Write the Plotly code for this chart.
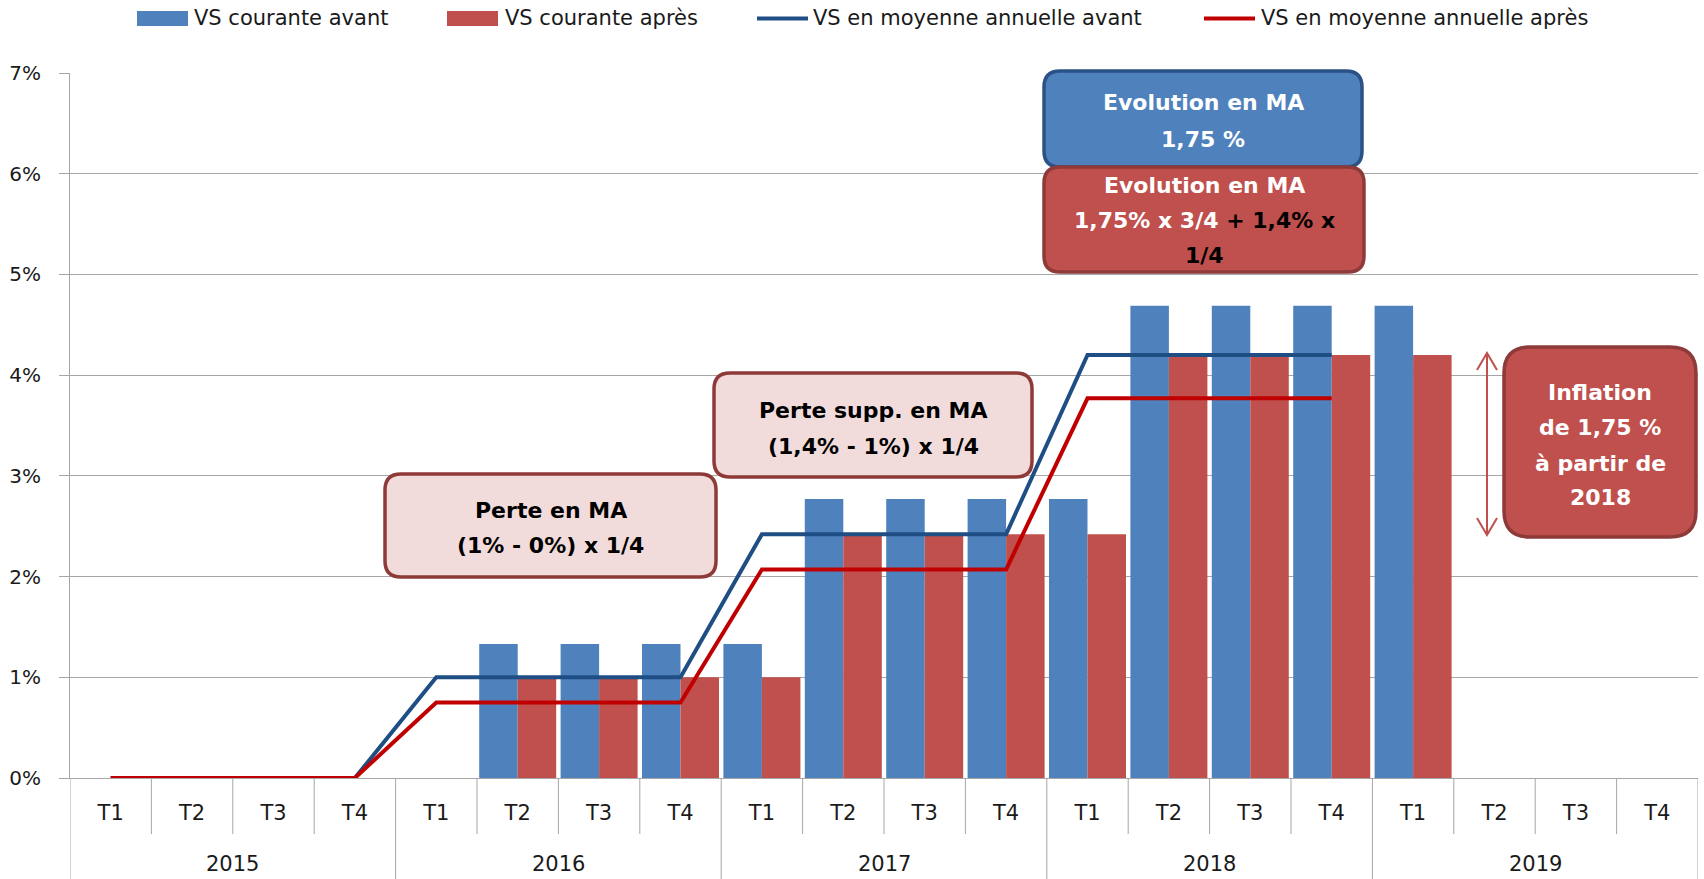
import plotly.graph_objects as go

# ---------------- data ----------------
years = ["2015", "2016", "2017", "2018", "2019"]
quarters = ["T1", "T2", "T3", "T4"]
period_quarters = [q for y in years for q in quarters]

vs_courante_avant = [None, None, None, None, None, 1.33, 1.33, 1.33, 1.33, 2.77, 2.77, 2.77, 2.77,
                     4.69, 4.69, 4.69, 4.69, None, None, None]
vs_courante_apres = [None, None, None, None, None, 1.0, 1.0, 1.0, 1.0, 2.42, 2.42, 2.42, 2.42,
                     4.2, 4.2, 4.2, 4.2, None, None, None]
vs_ma_avant = [0, 0, 0, 0, 1.0, 1.0, 1.0, 1.0, 2.42, 2.42, 2.42, 2.42, 4.2, 4.2, 4.2, 4.2,
               None, None, None, None]
vs_ma_apres = [0, 0, 0, 0, 0.75, 0.75, 0.75, 0.75, 2.07, 2.07, 2.07, 2.07, 3.77, 3.77, 3.77, 3.77,
               None, None, None, None]

series_names = ["VS courante avant", "VS courante après",
                "VS en moyenne annuelle avant", "VS en moyenne annuelle après"]
y_ticks = [0, 1, 2, 3, 4, 5, 6, 7]
y_tick_labels = ["0%", "1%", "2%", "3%", "4%", "5%", "6%", "7%"]

# ---------------- styles / layout constants ----------------
W, H = 1704, 879
L, R, T, B = 70, 1698, 73, 778
FONT = "DejaVu Sans"
BLUE = "#4F81BD"
RED = "#C0504D"
LINE_BLUE = "#1F4E85"
LINE_RED = "#C00000"
GRID = "#A6A6A6"
DARK_RED = "#8E3A38"
DARK_BLUE = "#2B5286"
PINK = "#F2DCDB"
TXT = "#1a1a1a"

x_idx = list(range(len(period_quarters)))
n = len(x_idx)


def fx(X):
    return (X - L) / (R - L)


def fy(Y):
    return (B - Y) / (B - T)


def rounded_path(x0, y0, x1, y1, r):
    pts = [
        ("M", [(x0 + r, y0)]), ("L", [(x1 - r, y0)]), ("Q", [(x1, y0), (x1, y0 + r)]),
        ("L", [(x1, y1 - r)]), ("Q", [(x1, y1), (x1 - r, y1)]),
        ("L", [(x0 + r, y1)]), ("Q", [(x0, y1), (x0, y1 - r)]),
        ("L", [(x0, y0 + r)]), ("Q", [(x0, y0), (x0 + r, y0)]),
    ]
    s = ""
    for cmd, ps in pts:
        s += cmd + " ".join(f"{fx(px):.5f},{fy(py):.5f}" for px, py in ps) + " "
    return s + "Z"


fig = go.Figure()
fig.add_trace(go.Bar(x=x_idx, y=vs_courante_avant, name=series_names[0],
                     marker=dict(color=BLUE, line=dict(width=0)), showlegend=False))
fig.add_trace(go.Bar(x=x_idx, y=vs_courante_apres, name=series_names[1],
                     marker=dict(color=RED, line=dict(width=0)), showlegend=False))
fig.add_trace(go.Scatter(x=x_idx, y=vs_ma_avant, name=series_names[2], mode="lines",
                         line=dict(color=LINE_BLUE, width=4), showlegend=False))
fig.add_trace(go.Scatter(x=x_idx, y=vs_ma_apres, name=series_names[3], mode="lines",
                         line=dict(color=LINE_RED, width=4), showlegend=False))

shapes = []
annotations = []

# category separators below the axis
for i in range(n + 1):
    xb = i - 0.5
    year_boundary = (i % len(quarters) == 0)
    shapes.append(dict(type="line", xref="x", yref="paper", x0=xb, x1=xb,
                       y0=fy(B), y1=fy(H if year_boundary else 834),
                       line=dict(color=GRID, width=1)))
# year labels
for k, yr in enumerate(years):
    annotations.append(dict(xref="x", yref="paper", x=k * len(quarters) + 1.5, y=fy(864),
                            text=yr, showarrow=False, xanchor="center", yanchor="middle",
                            font=dict(family=FONT, size=21, color=TXT)))

# manual legend
leg_y = 18.5
shapes.append(dict(type="rect", xref="paper", yref="paper", x0=fx(137), x1=fx(188),
                   y0=fy(11), y1=fy(26), fillcolor=BLUE, line=dict(width=0)))
shapes.append(dict(type="rect", xref="paper", yref="paper", x0=fx(447), x1=fx(498),
                   y0=fy(11), y1=fy(26), fillcolor=RED, line=dict(width=0)))
shapes.append(dict(type="line", xref="paper", yref="paper", x0=fx(757), x1=fx(808),
                   y0=fy(leg_y), y1=fy(leg_y), line=dict(color=LINE_BLUE, width=4)))
shapes.append(dict(type="line", xref="paper", yref="paper", x0=fx(1204), x1=fx(1255),
                   y0=fy(leg_y), y1=fy(leg_y), line=dict(color=LINE_RED, width=4)))
for xs, name in zip([192, 503, 811, 1259], series_names):
    annotations.append(dict(xref="paper", yref="paper", x=fx(xs), y=fy(leg_y), text=name,
                            showarrow=False, xanchor="left", yanchor="middle",
                            font=dict(family=FONT, size=21, color=TXT)))

# boxes
boxes = [
    dict(x0=385, y0=474, x1=716, y1=577, r=16, fill=PINK, border=DARK_RED,
         lines=[("Perte en MA", 510), ("(1% - 0%) x 1/4", 545)], color="black"),
    dict(x0=714, y0=373, x1=1032, y1=477, r=16, fill=PINK, border=DARK_RED,
         lines=[("Perte supp. en MA", 410), ("(1,4% - 1%) x 1/4", 446)], color="black"),
    dict(x0=1044, y0=71, x1=1362, y1=167, r=16, fill=BLUE, border=DARK_BLUE,
         lines=[("Evolution en MA", 103), ("1,75 %", 139)], color="white"),
    dict(x0=1044, y0=167, x1=1364, y1=272, r=16, fill=RED, border=DARK_RED,
         lines=[("Evolution en MA", 185),
                ("1,75% x 3/4 <span style='color:black'>+ 1,4% x</span>", 221),
                ("<span style='color:black'>1/4</span>", 255)], color="white"),
    dict(x0=1504, y0=347, x1=1696, y1=537, r=26, fill=RED, border=DARK_RED,
         lines=[("Inflation", 392), ("de 1,75 %", 428), ("à partir de", 463), ("2018", 497)],
         color="white"),
]
for bx in boxes:
    shapes.append(dict(type="path", xref="paper", yref="paper",
                       path=rounded_path(bx["x0"], bx["y0"], bx["x1"], bx["y1"], bx["r"]),
                       fillcolor=bx["fill"], line=dict(color=bx["border"], width=3.5),
                       layer="above"))
    cx = (bx["x0"] + bx["x1"]) / 2
    for txt, yy in bx["lines"]:
        annotations.append(dict(xref="paper", yref="paper", x=fx(cx), y=fy(yy),
                                text=f"<b>{txt}</b>", showarrow=False,
                                xanchor="center", yanchor="middle",
                                font=dict(family=FONT, size=22, color=bx["color"])))

# double-headed arrow
ax, ay0, ay1 = 1487, 353, 535
shapes.append(dict(type="line", xref="paper", yref="paper", x0=fx(ax), x1=fx(ax),
                   y0=fy(ay0), y1=fy(ay1), line=dict(color=RED, width=2)))
shapes.append(dict(type="path", xref="paper", yref="paper",
                   path=f"M{fx(ax-10):.5f},{fy(ay0+17):.5f} L{fx(ax):.5f},{fy(ay0):.5f} L{fx(ax+10):.5f},{fy(ay0+17):.5f}",
                   line=dict(color=RED, width=2)))
shapes.append(dict(type="path", xref="paper", yref="paper",
                   path=f"M{fx(ax-10):.5f},{fy(ay1-17):.5f} L{fx(ax):.5f},{fy(ay1):.5f} L{fx(ax+10):.5f},{fy(ay1-17):.5f}",
                   line=dict(color=RED, width=2)))

fig.update_layout(
    width=W, height=H,
    margin=dict(l=L, r=W - R, t=T, b=H - B, pad=0),
    paper_bgcolor="white", plot_bgcolor="white",
    barmode="group", bargap=0.054, bargroupgap=0,
    showlegend=False,
    shapes=shapes, annotations=annotations,
    font=dict(family=FONT, color=TXT),
)
fig.update_xaxes(
    range=[-0.5, n - 0.5], tickmode="array", tickvals=x_idx, ticktext=period_quarters,
    showgrid=False, zeroline=False, showline=True, linecolor=GRID, linewidth=1,
    ticks="", ticklabelstandoff=16, tickfont=dict(family=FONT, size=21, color=TXT),
)
fig.update_yaxes(
    range=[0, 7], tickmode="array", tickvals=y_ticks, ticktext=y_tick_labels,
    showgrid=True, gridcolor=GRID, gridwidth=1, zeroline=False,
    showline=True, linecolor=GRID, linewidth=1,
    ticks="outside", ticklen=10, tickcolor=GRID, ticklabelstandoff=14,
    tickfont=dict(family=FONT, size=20, color=TXT),
)

fig.write_html("out.html", config={"displayModeBar": False},
               post_script="document.body.style.margin='0';document.body.style.overflow='hidden';")
